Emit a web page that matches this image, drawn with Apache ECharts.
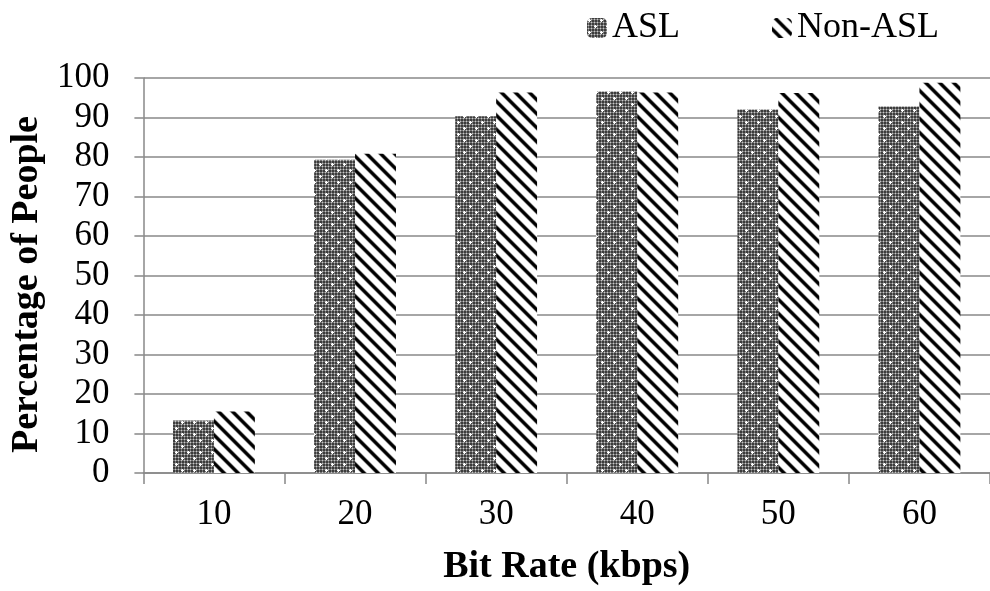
<!DOCTYPE html>
<html>
<head>
<meta charset="utf-8">
<style>
  html, body { margin: 0; padding: 0; background: #ffffff; }
  #chart { width: 990px; height: 591px; }
</style>
<script src="https://cdn.jsdelivr.net/npm/echarts@6/dist/echarts.min.js"></script>
</head>
<body>
<div id="chart"></div>
<script>
// ---- data ----
const categories = ['10', '20', '30', '40', '50', '60'];
const aslValues = [13.3, 79.3, 90.3, 96.6, 92.0, 92.8];
const nonAslValues = [15.6, 80.8, 96.3, 96.3, 96.2, 98.8];
const seriesNames = ['ASL', 'Non-ASL'];
const xTitle = 'Bit Rate (kbps)';
const yTitle = 'Percentage of People';

// ---- patterns ----
function makeDotPattern() {
  const n = 12;
  const c = document.createElement('canvas');
  c.width = n; c.height = n;
  const ctx = c.getContext('2d');
  const img = ctx.createImageData(n, n);
  const whites = [[2, 2], [8, 8]];
  for (let y = 0; y < n; y++) {
    for (let x = 0; x < n; x++) {
      let v;
      if (x % 3 === 1 && y % 3 === 1) v = 200;
      else if (x % 3 === 1 || y % 3 === 1) v = 120;
      else v = 60;
      for (const [wx, wy] of whites) {
        const dx = Math.abs(x - wx), dy = Math.abs(y - wy);
        if (dx + dy <= 1) v = 255;
      }
      const i = (y * n + x) * 4;
      img.data[i] = v; img.data[i + 1] = v; img.data[i + 2] = v; img.data[i + 3] = 255;
    }
  }
  ctx.putImageData(img, 0, 0);
  return c;
}
function makeStripePattern() {
  const n = 14;
  const c = document.createElement('canvas');
  c.width = n; c.height = n;
  const ctx = c.getContext('2d');
  const img = ctx.createImageData(n, n);
  for (let y = 0; y < n; y++) {
    for (let x = 0; x < n; x++) {
      const d = (((x - y) % n) + n) % n; // "\" stripes
      const dist = Math.min(Math.abs(d - 3), n - Math.abs(d - 3));
      let v;
      if (dist <= 1) v = 0;
      else if (dist <= 2) v = 60;
      else if (dist <= 3) v = 200;
      else v = 255;
      const i = (y * n + x) * 4;
      img.data[i] = v; img.data[i + 1] = v; img.data[i + 2] = v; img.data[i + 3] = 255;
    }
  }
  ctx.putImageData(img, 0, 0);
  return c;
}
const dotPattern = { image: makeDotPattern(), repeat: 'repeat' };
const stripePattern = { image: makeStripePattern(), repeat: 'repeat' };

const font = 'Liberation Serif';
const chart = echarts.init(document.getElementById('chart'));
chart.setOption({
  animation: false,
  backgroundColor: '#ffffff',
  textStyle: { fontFamily: font, color: '#000' },
  legend: {
    data: seriesNames,
    left: 582,
    top: 5,
    itemWidth: 20,
    itemHeight: 20,
    itemGap: 92,
    textStyle: { fontFamily: font, fontSize: 36, color: '#000' }
  },
  grid: { left: 142, right: 0, top: 78, bottom: 115, containLabel: false },
  xAxis: {
    type: 'category',
    data: categories,
    name: xTitle,
    nameLocation: 'middle',
    nameGap: 75,
    nameTextStyle: { fontFamily: font, fontSize: 38, fontWeight: 'bold', color: '#000' },
    axisLine: { lineStyle: { color: '#888', width: 1.5 } },
    axisTick: { show: true, length: 11, lineStyle: { color: '#888', width: 1.5 } },
    axisLabel: { fontFamily: font, fontSize: 35, color: '#000', margin: 24 }
  },
  yAxis: {
    type: 'value',
    min: 0, max: 100, interval: 10,
    name: yTitle,
    nameLocation: 'middle',
    nameGap: 79,
    nameRotate: 90,
    nameTextStyle: { fontFamily: font, fontSize: 38, fontWeight: 'bold', color: '#000', padding: [0, 18, 0, 0] },
    axisLine: { show: true, lineStyle: { color: '#888', width: 1.5 } },
    axisTick: { show: true, length: 9, lineStyle: { color: '#888', width: 1.5 } },
    axisLabel: { fontFamily: font, fontSize: 35, color: '#000', margin: 34 },
    splitLine: { show: true, lineStyle: { color: '#888', width: 1.5 } }
  },
  series: [
    {
      name: seriesNames[0], type: 'bar', data: aslValues,
      barGap: '0%', barCategoryGap: '42%',
      itemStyle: { color: dotPattern }
    },
    {
      name: seriesNames[1], type: 'bar', data: nonAslValues,
      barGap: '0%', barCategoryGap: '42%',
      itemStyle: { color: stripePattern }
    }
  ]
});
</script>
</body>
</html>
